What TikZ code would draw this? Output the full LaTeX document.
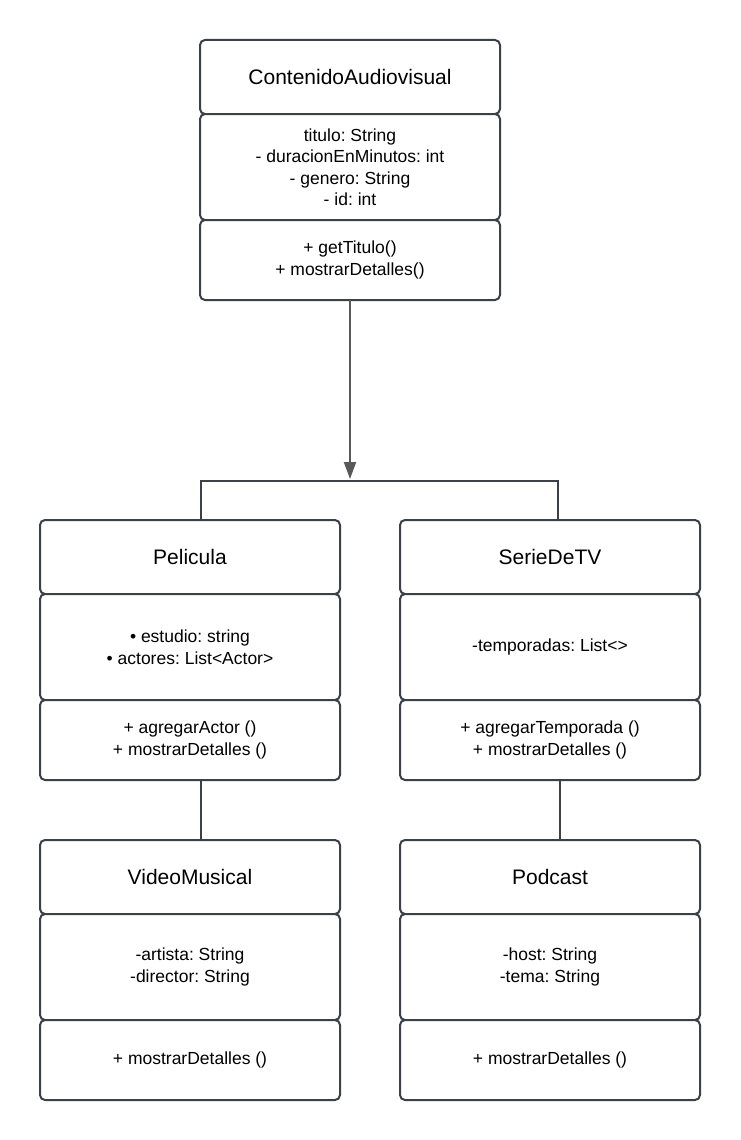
\documentclass[tikz,border=0pt]{standalone}
\usepackage{fontspec}
\setmainfont{Liberation Sans}
\frenchspacing
\usetikzlibrary{arrows.meta,positioning}
\definecolor{boxline}{RGB}{60,64,72}
\definecolor{arrowgray}{RGB}{89,89,89}

\begin{document}
\begin{tikzpicture}[x=1pt,y=1pt,>={Triangle[width=12pt,length=17pt]},
    part/.style={draw=boxline,line width=2pt,rounded corners=5pt,fill=white,minimum width=300pt,
                 outer sep=0pt,inner sep=0pt,align=center,font=\fontsize{17.5}{21.5}\selectfont},
    head/.style={part,minimum height=74pt,font=\fontsize{21}{25}\selectfont},
    attrs/.style={part,minimum height=106pt},
    ops/.style={part,minimum height=80pt},
    link/.style={draw=boxline,line width=2pt}]

                \useasboundingbox (0,0) rectangle (740,-1140);

                \node[head] (cont) at (350,-77) {ContenidoAudiovisual};
                \node[attrs] (contAttr) [below=0pt of cont] {titulo: String\\- duracionEnMinutos: int\\- genero: String\\- id: int};
                \node[ops] (contOps) [below=0pt of contAttr] {+ getTitulo()\\+ mostrarDetalles()};

                \node[head] (peli) at (190,-557) {Pelicula};
                \node[attrs] (peliAttr) [below=0pt of peli] {• estudio: string\\• actores: List<Actor>};
                \node[ops] (peliOps) [below=0pt of peliAttr] {+ agregarActor ()\\+ mostrarDetalles ()};

                \node[head] (serie) at (550,-557) {SerieDeTV};
                \node[attrs] (serieAttr) [below=0pt of serie] {-temporadas: List<>};
                \node[ops] (serieOps) [below=0pt of serieAttr] {+ agregarTemporada ()\\+ mostrarDetalles ()};

                \node[head] (video) at (190,-877) {VideoMusical};
                \node[attrs] (videoAttr) [below=0pt of video] {-artista: String\\-director: String};
                \node[ops] (videoOps) [below=0pt of videoAttr] {+ mostrarDetalles ()};

                \node[head] (pod) at (550,-877) {Podcast};
                \node[attrs] (podAttr) [below=0pt of pod] {-host: String\\-tema: String};
                \node[ops] (podOps) [below=0pt of podAttr] {+ mostrarDetalles ()};

                \coordinate (tip) at (350,-479);
                \coordinate (busL) at (201,-481);
                \coordinate (busR) at (558,-481);
                \coordinate (podX) at (560,-800);

                \draw[->,draw=arrowgray,line width=2pt] (contOps.south) -- (tip);
                \path[link] (peli.north -| busL) -- (busL) -- (busR) -- (serie.north -| busR)
                            (peliOps.south -| busL) -- (video.north -| busL)
                            (serieOps.south -| podX) -- (pod.north -| podX);

            \end{tikzpicture}
\end{document}
